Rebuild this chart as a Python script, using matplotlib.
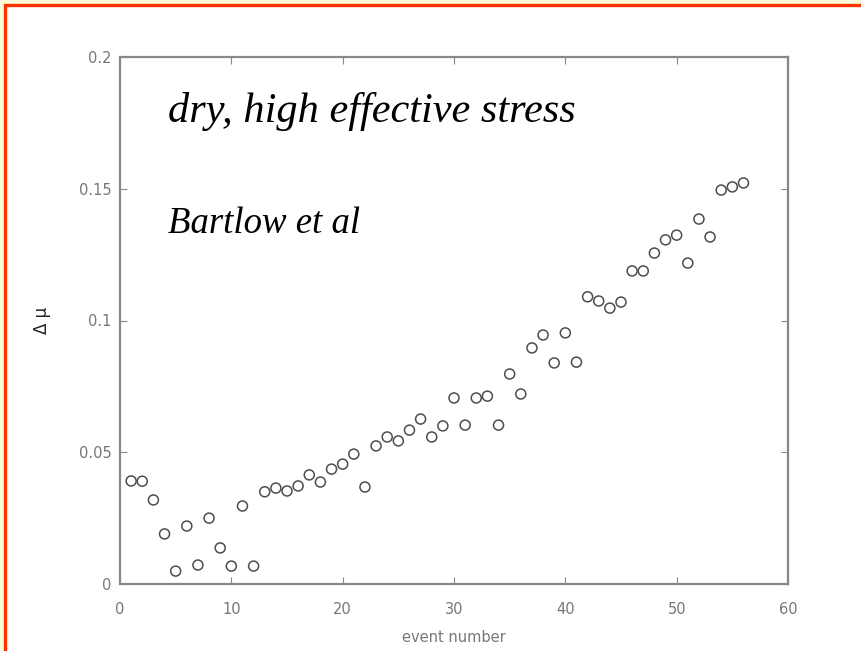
import numpy as np
import matplotlib.pyplot as plt
from matplotlib.patches import Rectangle

# friction change per stick-slip event
event = np.arange(1, 57)
dmu = [0.0391, 0.0390, 0.0319, 0.0190, 0.0049, 0.0220, 0.0072, 0.0250,
       0.0137, 0.0068, 0.0296, 0.0068, 0.0350, 0.0364, 0.0353, 0.0372,
       0.0414, 0.0387, 0.0436, 0.0455, 0.0493, 0.0368, 0.0524, 0.0558,
       0.0543, 0.0584, 0.0626, 0.0558, 0.0600, 0.0706, 0.0603, 0.0706,
       0.0713, 0.0603, 0.0797, 0.0721, 0.0896, 0.0945, 0.0839, 0.0953,
       0.0842, 0.1090, 0.1074, 0.1047, 0.1070, 0.1188, 0.1188, 0.1256,
       0.1306, 0.1324, 0.1218, 0.1385, 0.1317, 0.1495, 0.1507, 0.1522]

xticks = [0, 10, 20, 30, 40, 50, 60]
yticks = [0, 0.05, 0.1, 0.15, 0.2]
yticklabels = ['0', '0.05', '0.1', '0.15', '0.2']

W, H = 861, 651
fig = plt.figure(figsize=(W / 100, H / 100), dpi=100)
fig.patch.set_facecolor('#fffcdc')

# white slide panel with red frame
fig.patches.append(Rectangle((5 / W, -0.05), 1.1, (H - 5) / H + 0.05,
                             transform=fig.transFigure, facecolor='white',
                             edgecolor='#ff3300', linewidth=2.4, zorder=-1))

ax = fig.add_axes([120 / W, (H - 584) / H, 668 / W, 527 / H])
ax.scatter(event, dmu, s=52, facecolors='none', edgecolors='#4d4d4d',
           linewidths=1.1, zorder=3)

ax.set_xlim(0, 60)
ax.set_ylim(0, 0.2)
ax.set_xticks(xticks)
ax.set_yticks(yticks)
ax.set_yticklabels(yticklabels)
ax.tick_params(direction='in', top=True, right=True, length=5,
               color='#888888', labelcolor='#777777', labelsize=10.5, pad=6)
ax.tick_params(axis='x', pad=13)
for sp in ax.spines.values():
    sp.set_color('#888888')
    sp.set_linewidth(1.6)

ax.set_xlabel('event number', color='#777777', fontsize=10.5, labelpad=9)
ax.set_ylabel('Δ μ', color='#222222', fontsize=12, labelpad=20)

fig.text(168 / W, 1 - 122 / H, 'dry, high effective stress', va='baseline',
         fontsize=30.5, style='italic', family='Liberation Serif')
fig.text(168 / W, 1 - 233 / H, 'Bartlow et al', va='baseline',
         fontsize=26.5, style='italic', family='Liberation Serif')

fig.savefig('out.png', dpi=100, facecolor=fig.get_facecolor())
